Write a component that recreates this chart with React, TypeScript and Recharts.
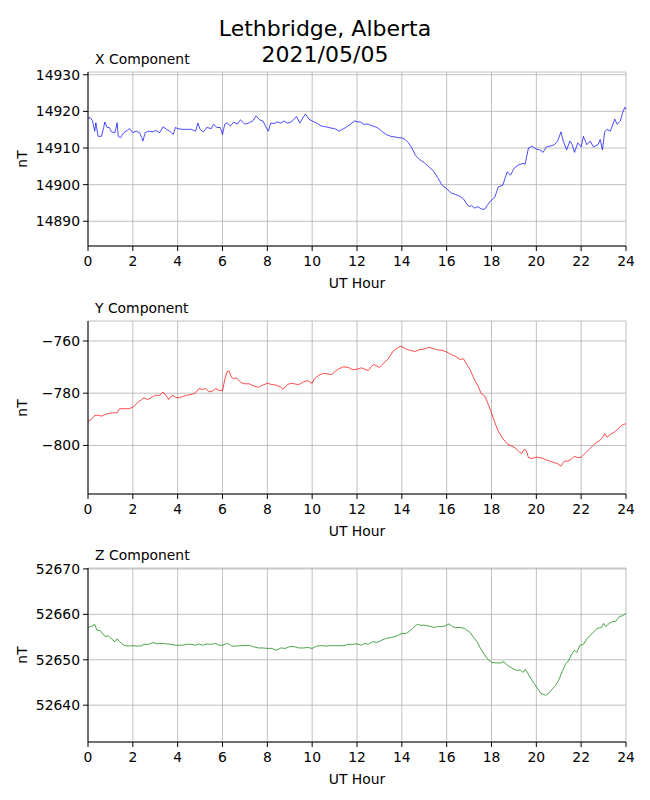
import React from 'react'
import { LineChart, Line, XAxis, YAxis, CartesianGrid } from 'recharts'

// hours on the shared x axis
const hourTicks = [0, 2, 4, 6, 8, 10, 12, 14, 16, 18, 20, 22, 24]
const minorHourTicks = [1, 3, 5, 7, 9, 11, 13, 15, 17, 19, 21, 23]

// X component (nT)
const xHours = [
  0, 0.1, 0.2, 0.3, 0.35, 0.45, 0.6, 0.7, 0.75, 0.85, 0.95, 1.05, 1.2, 1.3, 1.35, 1.45, 1.6, 1.75, 1.85,
  2.0, 2.15, 2.3, 2.4, 2.45, 2.55, 2.7, 2.9, 3.0, 3.2, 3.35, 3.5, 3.65, 3.8, 3.9, 4.0, 4.2, 4.4, 4.6, 4.8,
  4.9, 5.0, 5.15, 5.3, 5.5, 5.6, 5.75, 5.9, 6.0, 6.1, 6.2, 6.35, 6.5, 6.65, 6.8, 7.0, 7.2, 7.35, 7.5, 7.65,
  7.8, 7.95, 8.05, 8.15, 8.3, 8.45, 8.6, 8.75, 8.9, 9.05, 9.2, 9.3, 9.45, 9.55, 9.7, 9.85, 10.0, 10.2, 10.4,
  10.6, 10.8, 11.0, 11.2, 11.35, 11.5, 11.7, 11.9, 12.0, 12.15, 12.3, 12.5, 12.7, 12.9, 13.1, 13.3, 13.5,
  13.7, 13.9, 14.0, 14.15, 14.3, 14.45, 14.6, 14.8, 15.0, 15.2, 15.4, 15.6, 15.8, 16.0, 16.2, 16.4, 16.6,
  16.75, 16.9, 17.0, 17.1, 17.25, 17.4, 17.55, 17.7, 17.85, 18.0, 18.15, 18.3, 18.5, 18.7, 18.85, 19.0,
  19.2, 19.4, 19.5, 19.65, 19.8, 20.0, 20.15, 20.3, 20.45, 20.6, 20.8, 20.95, 21.1, 21.2, 21.35, 21.5,
  21.6, 21.7, 21.85, 22.0, 22.1, 22.25, 22.4, 22.55, 22.75, 22.85, 22.95, 23.05, 23.15, 23.3, 23.5, 23.6,
  23.75, 23.85, 23.95, 24.0,
]
const xValues = [
  14918.1, 14918.3, 14917.4, 14914.6, 14916.9, 14913.2, 14913.2, 14915.6, 14917.1, 14915.6, 14915.6,
  14914.4, 14914.2, 14916.9, 14913.2, 14912.8, 14914.2, 14914.8, 14915.3, 14914.2, 14914.6, 14914.2,
  14912.8, 14911.9, 14914.2, 14914.6, 14914.4, 14914.8, 14914.2, 14915.8, 14915.1, 14914.6, 14913.7,
  14915.6, 14915.3, 14915.1, 14915.1, 14915.1, 14914.6, 14916.8, 14915.1, 14914.4, 14915.6, 14915.3,
  14916.5, 14915.6, 14915.6, 14913.7, 14916.5, 14916.9, 14916.0, 14917.1, 14916.5, 14917.7, 14916.5,
  14916.9, 14917.4, 14918.8, 14917.7, 14917.4, 14915.6, 14914.6, 14916.8, 14916.7, 14917.1, 14916.8,
  14917.4, 14916.8, 14917.1, 14917.9, 14918.6, 14916.8, 14917.9, 14919.3, 14917.9, 14917.4, 14916.8,
  14916.0, 14915.8, 14915.5, 14915.3, 14914.6, 14915.1, 14915.6, 14916.5, 14917.4, 14917.2, 14917.1,
  14916.5, 14916.5, 14916.0, 14915.6, 14914.6, 14913.7, 14913.2, 14913.0, 14912.8, 14912.8, 14912.3,
  14911.4, 14910.0, 14908.1, 14906.8, 14906.0, 14904.9, 14903.8, 14901.9, 14899.8, 14898.9, 14897.7,
  14897.3, 14896.8, 14896.1, 14894.7, 14894.0, 14894.3, 14893.6, 14894.0, 14893.3, 14893.3, 14894.7,
  14895.8, 14896.6, 14899.4, 14899.8, 14903.5, 14902.6, 14904.4, 14905.4, 14905.8, 14905.6, 14910.0,
  14910.5, 14909.7, 14909.5, 14908.8, 14910.3, 14910.5, 14910.9, 14911.9, 14914.4, 14911.9, 14909.5,
  14911.9, 14910.9, 14908.8, 14911.4, 14910.3, 14913.2, 14910.9, 14911.9, 14910.3, 14910.9, 14912.3,
  14909.5, 14914.4, 14915.1, 14914.6, 14917.9, 14916.5, 14917.4, 14919.7, 14921.1, 14920.6,
]
const xTicks = [14890, 14900, 14910, 14920, 14930]
const xDomain = [14883.25, 14930.75]

// Y component (nT)
const yHours = [
  0, 0.15, 0.3, 0.45, 0.6, 0.75, 0.9, 1.1, 1.3, 1.4, 1.6, 1.8, 2.0, 2.2, 2.4, 2.5, 2.65, 2.8, 3.0, 3.2,
  3.35, 3.5, 3.6, 3.75, 3.9, 4.0, 4.2, 4.4, 4.6, 4.8, 4.95, 5.1, 5.25, 5.4, 5.55, 5.7, 5.85, 6.0, 6.1, 6.2,
  6.3, 6.4, 6.5, 6.6, 6.7, 6.85, 7.0, 7.2, 7.4, 7.6, 7.8, 8.0, 8.2, 8.4, 8.6, 8.7, 8.9, 9.05, 9.2, 9.4, 9.6,
  9.8, 10.0, 10.1, 10.3, 10.5, 10.7, 10.85, 11.0, 11.2, 11.4, 11.6, 11.8, 12.0, 12.2, 12.4, 12.5, 12.65,
  12.75, 12.9, 13.0, 13.2, 13.4, 13.6, 13.8, 13.95, 14.05, 14.2, 14.4, 14.6, 14.8, 15.0, 15.2, 15.4, 15.6,
  15.8, 16.0, 16.2, 16.4, 16.6, 16.75, 16.9, 17.05, 17.2, 17.4, 17.55, 17.7, 17.85, 18.0, 18.15, 18.3,
  18.5, 18.7, 18.9, 19.05, 19.2, 19.35, 19.45, 19.55, 19.65, 19.8, 20.0, 20.2, 20.4, 20.6, 20.8, 20.95,
  21.1, 21.25, 21.4, 21.55, 21.7, 21.85, 22.0, 22.2, 22.4, 22.6, 22.8, 22.95, 23.05, 23.15, 23.3, 23.5,
  23.7, 23.85, 24.0,
]
const yValues = [
  -790.7, -790.1, -788.5, -788.4, -788.8, -788.2, -787.8, -787.5, -787.5, -786.0, -785.9, -786.0, -785.4,
  -783.7, -782.4, -781.8, -782.4, -781.8, -780.8, -780.8, -779.5, -781.1, -782.4, -780.8, -781.5, -781.8,
  -781.4, -780.8, -780.5, -779.9, -778.2, -778.6, -778.2, -779.5, -779.2, -778.2, -779.0, -779.0, -774.8,
  -771.8, -771.6, -773.9, -774.4, -774.1, -774.8, -776.1, -776.4, -776.4, -777.3, -777.7, -776.9, -776.2,
  -776.7, -776.9, -777.7, -778.5, -776.7, -776.2, -776.4, -776.7, -775.7, -775.2, -776.2, -774.4, -773.1,
  -772.4, -772.6, -772.9, -771.8, -770.6, -769.9, -770.1, -771.0, -770.8, -770.3, -771.0, -771.3, -769.7,
  -769.0, -769.7, -770.1, -768.4, -766.8, -764.0, -762.7, -762.0, -762.4, -763.1, -763.7, -764.0, -763.3,
  -763.1, -762.4, -762.9, -763.4, -763.6, -764.2, -765.2, -765.9, -767.1, -766.8, -769.0, -771.0, -774.1,
  -777.3, -780.3, -781.1, -784.1, -787.5, -791.3, -794.5, -797.3, -799.4, -800.3, -800.9, -802.2, -803.1,
  -801.5, -801.9, -804.7, -805.0, -804.5, -804.7, -805.4, -806.0, -806.6, -807.0, -807.9, -806.0, -806.0,
  -805.4, -804.1, -804.7, -804.5, -802.8, -801.1, -799.4, -798.3, -797.1, -795.5, -796.8, -795.8, -794.8,
  -793.2, -792.0, -791.7,
]
const yTicks = [-800, -780, -760]
const yDomain = [-818.6, -752.35]

// Z component (nT)
const zHours = [
  0, 0.1, 0.2, 0.3, 0.4, 0.55, 0.7, 0.8, 0.9, 1.05, 1.2, 1.3, 1.4, 1.6, 1.8, 2.0, 2.2, 2.4, 2.5, 2.7, 2.9,
  3.1, 3.3, 3.5, 3.7, 3.9, 4.0, 4.2, 4.4, 4.6, 4.8, 4.95, 5.1, 5.3, 5.5, 5.7, 5.85, 6.0, 6.15, 6.3, 6.4,
  6.6, 6.8, 7.0, 7.2, 7.35, 7.6, 7.8, 8.0, 8.2, 8.4, 8.6, 8.8, 9.0, 9.2, 9.4, 9.6, 9.8, 10.0, 10.2, 10.4,
  10.6, 10.8, 11.0, 11.2, 11.4, 11.6, 11.8, 12.0, 12.2, 12.35, 12.5, 12.7, 12.9, 13.1, 13.3, 13.5, 13.7,
  13.85, 14.0, 14.2, 14.4, 14.55, 14.7, 14.85, 15.0, 15.15, 15.3, 15.45, 15.6, 15.8, 15.95, 16.1, 16.25,
  16.4, 16.6, 16.8, 16.9, 17.05, 17.2, 17.35, 17.5, 17.65, 17.8, 18.0, 18.2, 18.4, 18.55, 18.7, 18.9, 19.1,
  19.3, 19.4, 19.5, 19.6, 19.75, 19.9, 20.05, 20.2, 20.4, 20.55, 20.7, 20.85, 21.0, 21.15, 21.3, 21.45,
  21.6, 21.7, 21.8, 21.95, 22.1, 22.3, 22.5, 22.7, 22.9, 23.0, 23.1, 23.25, 23.4, 23.55, 23.7, 23.85, 24.0,
]
const zValues = [
  52657.1, 52657.3, 52657.5, 52657.8, 52656.5, 52656.4, 52655.4, 52655.1, 52655.3, 52654.6, 52654.0,
  52654.6, 52654.0, 52653.2, 52653.0, 52653.1, 52653.0, 52653.1, 52653.4, 52653.4, 52653.8, 52653.5,
  52653.6, 52653.5, 52653.4, 52653.2, 52653.2, 52653.2, 52653.4, 52653.4, 52653.2, 52653.5, 52653.2,
  52653.5, 52653.4, 52653.6, 52653.2, 52653.2, 52653.5, 52653.5, 52653.0, 52653.0, 52653.1, 52653.1,
  52653.2, 52652.9, 52652.6, 52652.6, 52652.5, 52652.5, 52652.1, 52652.6, 52652.5, 52652.9, 52652.9,
  52652.6, 52652.6, 52652.7, 52652.5, 52653.0, 52653.1, 52653.0, 52653.1, 52653.1, 52653.1, 52653.1,
  52653.4, 52653.4, 52653.5, 52653.2, 52653.6, 52653.4, 52654.0, 52653.8, 52654.3, 52654.7, 52654.9,
  52655.1, 52655.4, 52655.8, 52655.8, 52656.5, 52657.3, 52657.8, 52657.6, 52657.6, 52657.5, 52657.3,
  52657.1, 52657.3, 52657.3, 52657.5, 52657.9, 52657.3, 52657.1, 52657.1, 52656.9, 52656.5, 52656.0,
  52654.9, 52654.0, 52652.6, 52651.4, 52650.3, 52649.4, 52649.3, 52649.3, 52649.6, 52648.8, 52648.2,
  52647.7, 52647.7, 52647.2, 52647.9, 52647.2, 52645.9, 52644.8, 52643.7, 52642.6, 52642.2, 52642.6,
  52643.5, 52644.3, 52645.5, 52647.4, 52649.0, 52649.9, 52651.4, 52652.1, 52651.6, 52653.2, 52653.4,
  52654.9, 52655.8, 52656.9, 52657.1, 52658.0, 52657.3, 52658.0, 52658.4, 52658.5, 52659.5, 52659.7,
  52660.2,
]
const zTicks = [52640, 52650, 52660, 52670]
const zDomain = [52631.9, 52670.2]

const font = 'DejaVu Sans, sans-serif'
const tickStyle = { fill: '#000', fontSize: 13.9, fontFamily: font }
const minus = (v: number) => (v < 0 ? '\u2212' + Math.abs(v) : String(v))

function Panel({ top, plotTop, plotBottom, title, hours, values, color, domain, ticks }: {
  top: number, plotTop: number, plotBottom: number, title: string, hours: number[], values: number[],
  color: string, domain: number[], ticks: number[]
}) {
  const data = hours.map((h, i) => ({ h, v: values[i] }))
  const axisH = 45
  const height = plotBottom - top + axisH
  return (
    <>
      <div style={{ position: 'absolute', left: 95, top: plotTop - 21, fontFamily: font, fontSize: 13.9, lineHeight: '16px' }}>
        {title}
      </div>
      <div style={{
        position: 'absolute', left: 22 - 20, top: (plotTop + plotBottom) / 2 - 8, width: 40, textAlign: 'center',
        fontFamily: font, fontSize: 13.9, lineHeight: '16px', transform: 'rotate(-90deg)',
      }}>nT</div>
      <div style={{ position: 'absolute', left: 0, top }}>
        <LineChart width={650} height={height} data={data} margin={{ top: plotTop - top, right: 24, left: 0, bottom: 0 }}>
          <CartesianGrid stroke="#b0b0b0" strokeWidth={0.8} />
          <XAxis
            dataKey="h" type="number" domain={[0, 24]} allowDataOverflow ticks={hourTicks} interval={0}
            height={axisH} tick={tickStyle} tickSize={5} tickMargin={5}
            axisLine={{ stroke: '#000', strokeWidth: 1 }} tickLine={{ stroke: '#000', strokeWidth: 1 }}
            label={{ value: 'UT Hour', position: 'insideBottom', offset: 3, fill: '#000', fontSize: 13.9, fontFamily: font }}
          />
          <XAxis
            xAxisId="minor" type="number" domain={[0, 24]} allowDataOverflow ticks={minorHourTicks} interval={0}
            height={0} tickSize={3} tickFormatter={() => ''} axisLine={false}
            tickLine={{ stroke: '#000', strokeWidth: 0.8 }}
          />
          <XAxis
            xAxisId="top" orientation="top" type="number" domain={[0, 24]} height={0}
            tick={false} tickLine={false} axisLine={{ stroke: '#000', strokeWidth: 1 }}
          />
          <YAxis
            type="number" domain={domain} allowDataOverflow ticks={ticks} interval={0} width={88}
            tick={tickStyle} tickSize={5} tickMargin={3} tickFormatter={minus}
            axisLine={{ stroke: '#000', strokeWidth: 1 }} tickLine={{ stroke: '#000', strokeWidth: 1 }}
          />
          <YAxis
            yAxisId="right" orientation="right" type="number" domain={domain} width={0}
            tick={false} tickLine={false} axisLine={{ stroke: '#000', strokeWidth: 1 }}
          />
          <Line dataKey="v" type="linear" stroke={color} strokeWidth={0.7} dot={false} isAnimationActive={false} />
        </LineChart>
      </div>
    </>
  )
}

export default function App() {
  return (
    <div style={{ position: 'absolute', left: 0, top: 0, width: 650, height: 800, background: '#fff' }}>
      <div style={{
        position: 'absolute', left: 0, top: 16, width: 650, textAlign: 'center',
        fontFamily: font, fontSize: 22, lineHeight: '26px',
      }}>
        <div>Lethbridge, Alberta</div>
        <div>2021/05/05</div>
      </div>
      <Panel top={60} plotTop={72} plotBottom={246} title="X Component" hours={xHours} values={xValues}
        color="#0000ff" domain={xDomain} ticks={xTicks} />
      <Panel top={310} plotTop={321} plotBottom={494} title="Y Component" hours={yHours} values={yValues}
        color="#ff0000" domain={yDomain} ticks={yTicks} />
      <Panel top={558} plotTop={568} plotBottom={742} title="Z Component" hours={zHours} values={zValues}
        color="#008000" domain={zDomain} ticks={zTicks} />
    </div>
  )
}
